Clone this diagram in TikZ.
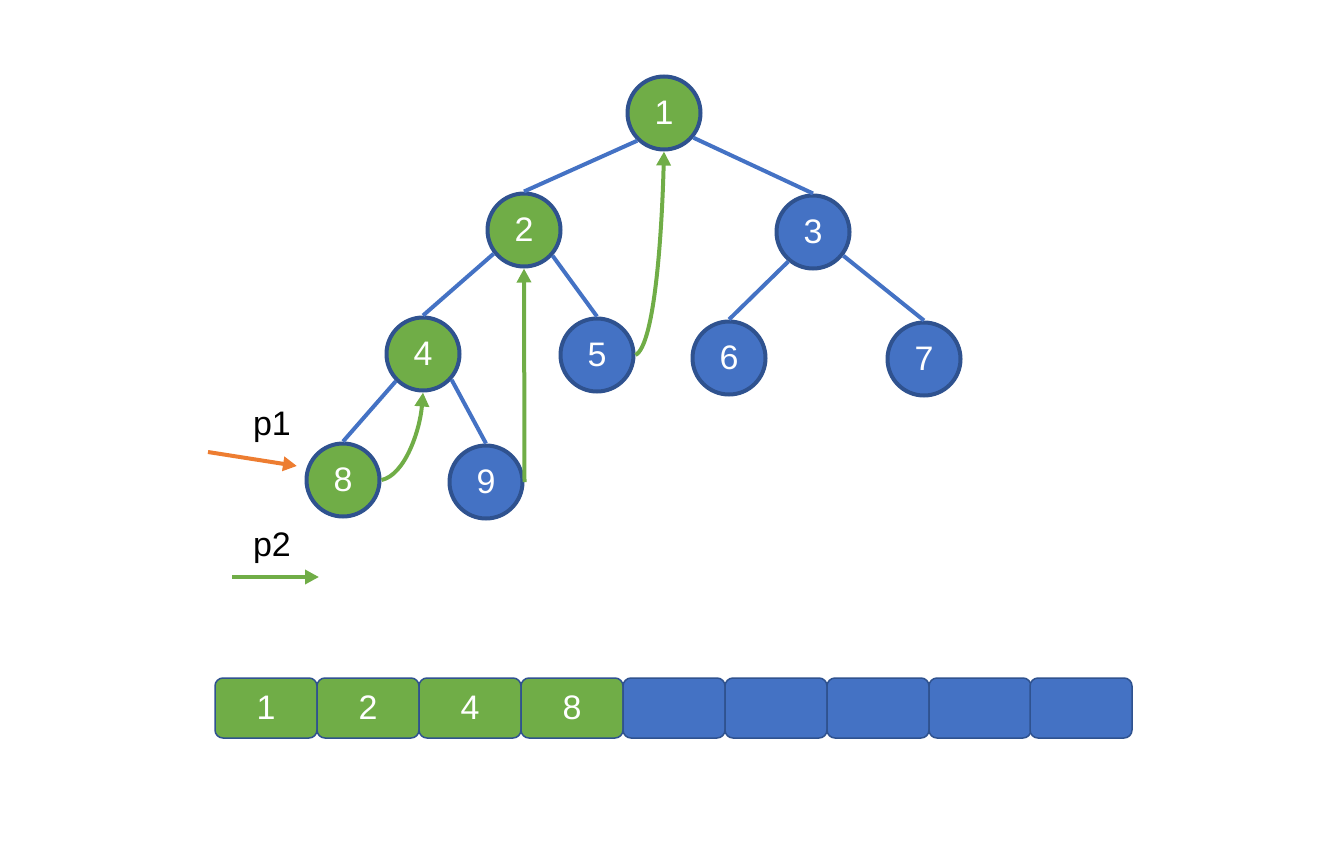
\documentclass[tikz,border=0pt]{standalone}
\usepackage{fontspec}
\setmainfont{Liberation Sans}
\usetikzlibrary{arrows.meta}
\definecolor{ngreen}{HTML}{70AD47}
\definecolor{nblue}{HTML}{4472C4}
\definecolor{nborder}{HTML}{2F528F}
\definecolor{norange}{HTML}{ED7D31}
\begin{document}
\begin{tikzpicture}[x=1pt,y=-1pt,
  tnode/.style={circle,draw=nborder,line width=4pt,minimum size=73pt,inner sep=0pt,text=white,font=\fontsize{34}{34}\selectfont},
  gnode/.style={tnode,fill=ngreen},
  bnode/.style={tnode,fill=nblue},
  cell/.style={draw=nborder,line width=1.5pt,rounded corners=8pt,minimum width=102pt,minimum height=60pt,inner sep=0pt,text=white,font=\fontsize{34}{34}\selectfont},
  gcell/.style={cell,fill=ngreen},
  bcell/.style={cell,fill=nblue},
  tedge/.style={draw=nblue,line width=4pt},
  garrow/.style={draw=ngreen,line width=4pt,-{Triangle[length=14pt,width=14pt]}},
  lbl/.style={font=\fontsize{34}{34}\selectfont,text=black}]
\useasboundingbox (0,0) rectangle (1333,862);
\node[gnode] (n1) at (664,113) {1};
\node[gnode] (n2) at (524,230) {2};
\node[bnode] (n3) at (813,232) {3};
\node[gnode] (n4) at (423,354) {4};
\node[bnode] (n5) at (597,355) {5};
\node[bnode] (n6) at (729,358) {6};
\node[bnode] (n7) at (924,359) {7};
\node[gnode] (n8) at (343,480) {8};
\node[bnode] (n9) at (486,482) {9};
% tree edges
\draw[tedge] (n1.226) -- (n2.north);
\draw[tedge] (n1.-40) -- (n3.north);
\draw[tedge] (n2.218) -- (n4.north);
\draw[tedge] (n2.-42) -- (n5.north);
\draw[tedge] (n3.230) -- (n6.north);
\draw[tedge] (n3.-38) -- (n7.north);
\draw[tedge] (n4.225) -- (n8.north);
\draw[tedge] (n4.-42) -- (n9.north);
% green arrows
\draw[garrow] (n8.east) .. controls (405,475) and (420,430) .. (n4.south);
\draw[garrow] (n9.east) -- (n2.south);
\draw[garrow] (n5.east) .. controls (655,345) and (662,230) .. (n1.south);
% pointers
\node[lbl] (p1) at (272,427) {p1};
\node[lbl] (p2) at (272,548) {p2};
\coordinate (p1s) at (208,452);
\coordinate (p1e) at (297,466);
\coordinate (p2s) at (232,577);
\coordinate (p2e) at (319,577);
\draw[draw=norange,line width=4pt,-{Triangle[length=14pt,width=14pt]}] (p1s) -- (p1e);
\draw[draw=ngreen,line width=4pt,-{Triangle[length=14pt,width=14pt]}] (p2s) -- (p2e);
% array
\node[gcell] (c1) at (266,708) {1};
\node[gcell] (c2) at (368,708) {2};
\node[gcell] (c3) at (470,708) {4};
\node[gcell] (c4) at (572,708) {8};
\node[bcell] (c5) at (674,708) {};
\node[bcell] (c6) at (776,708) {};
\node[bcell] (c7) at (878,708) {};
\node[bcell] (c8) at (980,708) {};
\node[bcell] (c9) at (1081,708) {};
\end{tikzpicture}
\end{document}
